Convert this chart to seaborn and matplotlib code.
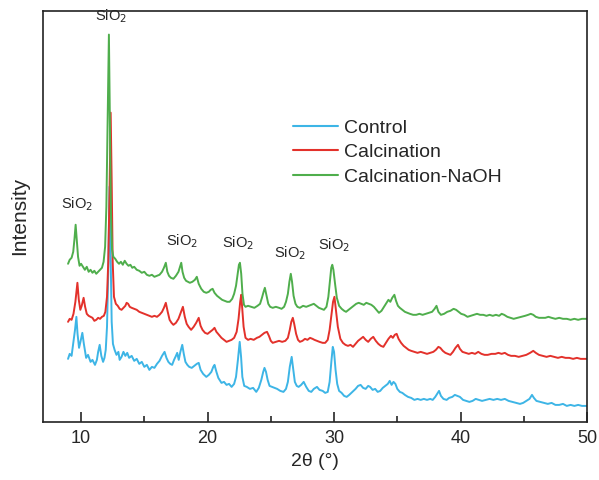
import numpy as np
import pandas as pd
import matplotlib
matplotlib.use("Agg")
import matplotlib.pyplot as plt
import seaborn as sns
from matplotlib.ticker import MultipleLocator

# XRD traces: (2theta in degrees, intensity in arbitrary units)
control_pts = [
    (8.97, 63), (9.1, 68), (9.25, 66), (9.4, 80), (9.52, 92), (9.63, 105), (9.72, 88), (9.84, 74),
    (9.95, 80), (10.1, 89), (10.22, 78), (10.4, 64), (10.55, 67), (10.75, 60), (10.9, 62), (11.1, 57),
    (11.25, 62), (11.35, 70), (11.47, 77), (11.6, 66), (11.74, 60), (11.85, 64), (11.95, 72),
    (12.05, 95), (12.15, 150), (12.25, 235), (12.33, 170), (12.42, 100), (12.52, 78), (12.65, 72),
    (12.8, 67), (12.95, 70), (13.05, 62), (13.2, 65), (13.35, 70), (13.5, 66), (13.65, 69), (13.8, 64),
    (14.0, 66), (14.2, 61), (14.4, 63), (14.6, 58), (14.8, 60), (15.0, 55), (15.2, 57), (15.4, 52),
    (15.6, 55), (15.8, 54), (16.0, 58), (16.2, 61), (16.4, 66), (16.6, 70), (16.75, 64), (16.9, 60),
    (17.05, 58), (17.2, 57), (17.35, 62), (17.5, 66), (17.6, 69), (17.72, 62), (17.85, 70), (18.0, 77),
    (18.12, 68), (18.25, 60), (18.4, 57), (18.55, 55), (18.75, 54), (18.95, 56), (19.15, 58),
    (19.3, 59), (19.45, 52), (19.65, 48), (19.9, 45), (20.1, 47), (20.3, 50), (20.45, 55), (20.55, 57),
    (20.7, 50), (20.85, 44), (21.1, 39), (21.3, 40), (21.5, 37), (21.7, 38), (21.9, 35), (22.1, 38),
    (22.25, 45), (22.4, 62), (22.54, 80), (22.65, 65), (22.75, 45), (22.9, 36), (23.1, 35),
    (23.35, 33), (23.6, 34), (23.85, 30), (24.05, 34), (24.25, 42), (24.4, 50), (24.5, 54),
    (24.62, 50), (24.75, 42), (24.9, 36), (25.1, 35), (25.3, 34), (25.5, 33), (25.75, 31), (26.0, 30),
    (26.2, 33), (26.35, 40), (26.5, 55), (26.65, 65), (26.78, 52), (26.9, 40), (27.05, 36), (27.2, 35),
    (27.4, 37), (27.6, 40), (27.8, 35), (28.0, 31), (28.2, 30), (28.4, 33), (28.65, 35), (28.85, 32),
    (29.1, 31), (29.3, 29), (29.5, 30), (29.65, 40), (29.8, 62), (29.9, 75), (30.0, 70), (30.12, 52),
    (30.25, 38), (30.4, 31), (30.6, 29), (30.8, 26), (31.0, 25), (31.2, 27), (31.45, 30), (31.7, 33),
    (31.9, 36), (32.1, 37), (32.3, 34), (32.5, 33), (32.7, 36), (32.85, 35), (33.05, 32), (33.25, 33),
    (33.45, 30), (33.65, 31), (33.85, 34), (34.05, 36), (34.25, 38), (34.4, 41), (34.55, 37),
    (34.7, 40), (34.85, 38), (35.0, 33), (35.2, 30), (35.4, 29), (35.6, 27), (35.85, 25), (36.1, 24),
    (36.35, 22), (36.6, 23), (36.85, 22), (37.1, 23), (37.35, 22), (37.6, 23), (37.8, 22), (38.0, 25),
    (38.15, 28), (38.3, 31), (38.45, 26), (38.65, 23), (38.9, 22), (39.1, 24), (39.35, 25),
    (39.55, 27), (39.75, 26), (39.95, 25), (40.2, 22), (40.45, 21), (40.7, 20), (40.95, 21),
    (41.2, 23), (41.45, 22), (41.7, 21), (42.0, 22), (42.3, 23), (42.6, 22), (42.9, 23), (43.2, 22),
    (43.5, 23), (43.8, 21), (44.1, 20), (44.4, 19), (44.7, 18), (44.95, 19), (45.2, 21), (45.45, 23),
    (45.65, 27), (45.8, 24), (46.0, 21), (46.3, 20), (46.6, 19), (46.9, 18), (47.2, 19), (47.5, 17),
    (47.8, 17), (48.1, 18), (48.4, 16), (48.7, 17), (49.0, 16), (49.3, 17), (49.6, 16), (50.0, 16),
]

calc_pts = [
    (8.97, 100), (9.1, 103), (9.25, 102), (9.4, 108), (9.55, 120), (9.71, 139), (9.82, 122),
    (9.94, 112), (10.05, 116), (10.2, 124), (10.32, 115), (10.45, 108), (10.6, 106), (10.75, 105),
    (10.9, 104), (11.05, 101), (11.2, 102), (11.35, 104), (11.5, 103), (11.65, 105), (11.8, 106),
    (11.92, 110), (12.05, 125), (12.15, 160), (12.25, 230), (12.34, 309), (12.42, 240), (12.5, 160),
    (12.6, 125), (12.75, 118), (12.9, 116), (13.05, 113), (13.2, 112), (13.35, 114), (13.5, 116),
    (13.6, 119), (13.72, 118), (13.85, 115), (14.0, 114), (14.2, 113), (14.4, 112), (14.6, 110),
    (14.8, 109), (15.0, 108), (15.2, 107), (15.4, 106), (15.6, 105), (15.8, 106), (16.0, 105),
    (16.2, 107), (16.4, 110), (16.55, 114), (16.7, 119), (16.85, 110), (17.0, 102), (17.15, 99),
    (17.3, 97), (17.5, 99), (17.7, 103), (17.9, 110), (18.05, 115), (18.2, 105), (18.35, 98),
    (18.5, 95), (18.7, 92), (18.9, 95), (19.1, 99), (19.3, 104), (19.45, 96), (19.6, 92), (19.8, 89),
    (20.0, 88), (20.2, 90), (20.4, 92), (20.55, 94), (20.7, 90), (20.9, 87), (21.1, 84), (21.3, 82),
    (21.5, 80), (21.7, 81), (21.9, 82), (22.1, 84), (22.3, 90), (22.45, 103), (22.58, 120),
    (22.66, 127), (22.75, 112), (22.85, 95), (23.0, 84), (23.2, 82), (23.4, 83), (23.65, 82),
    (23.9, 84), (24.1, 85), (24.3, 87), (24.5, 89), (24.7, 90), (24.85, 86), (25.0, 81), (25.15, 79),
    (25.4, 80), (25.65, 81), (25.9, 80), (26.15, 81), (26.35, 84), (26.5, 92), (26.62, 100),
    (26.74, 104), (26.85, 98), (27.0, 88), (27.15, 82), (27.3, 80), (27.5, 81), (27.7, 83),
    (27.9, 82), (28.1, 84), (28.3, 83), (28.45, 82), (28.65, 81), (28.85, 80), (29.1, 79), (29.3, 79),
    (29.5, 82), (29.65, 92), (29.8, 108), (29.92, 120), (30.03, 125), (30.15, 112), (30.3, 95),
    (30.5, 83), (30.7, 79), (30.9, 77), (31.1, 76), (31.3, 77), (31.5, 75), (31.7, 78), (31.9, 81),
    (32.1, 83), (32.3, 85), (32.5, 82), (32.7, 80), (32.9, 83), (33.1, 85), (33.3, 81), (33.5, 78),
    (33.7, 76), (33.9, 75), (34.1, 79), (34.3, 83), (34.5, 86), (34.65, 84), (34.8, 87), (34.95, 88),
    (35.1, 83), (35.3, 79), (35.5, 76), (35.7, 74), (35.9, 72), (36.1, 71), (36.35, 70), (36.6, 69),
    (36.85, 70), (37.1, 69), (37.35, 68), (37.6, 69), (37.85, 70), (38.05, 72), (38.25, 75),
    (38.4, 74), (38.6, 71), (38.8, 69), (39.0, 68), (39.2, 67), (39.4, 70), (39.6, 74), (39.8, 77),
    (39.95, 73), (40.15, 70), (40.4, 69), (40.65, 68), (40.9, 69), (41.15, 68), (41.4, 70),
    (41.65, 68), (41.9, 67), (42.15, 67), (42.45, 68), (42.75, 68), (43.0, 69), (43.25, 68),
    (43.5, 69), (43.75, 67), (44.0, 66), (44.3, 66), (44.6, 65), (44.9, 66), (45.2, 67), (45.5, 69),
    (45.75, 71), (45.95, 69), (46.2, 67), (46.5, 66), (46.8, 65), (47.1, 66), (47.4, 65), (47.7, 64),
    (48.0, 65), (48.3, 64), (48.6, 64), (48.9, 63), (49.2, 64), (49.5, 63), (49.8, 63), (50.0, 63),
]

naoh_pts = [
    (8.97, 158), (9.1, 162), (9.25, 164), (9.38, 170), (9.48, 183), (9.57, 197), (9.66, 182),
    (9.76, 165), (9.88, 156), (10.0, 158), (10.15, 155), (10.3, 152), (10.45, 155), (10.6, 150),
    (10.75, 152), (10.9, 149), (11.05, 151), (11.2, 148), (11.35, 150), (11.5, 152), (11.65, 154),
    (11.78, 160), (11.9, 175), (12.0, 215), (12.1, 300), (12.2, 387), (12.28, 300), (12.36, 210),
    (12.45, 172), (12.55, 165), (12.7, 163), (12.85, 160), (13.0, 158), (13.15, 160), (13.3, 157),
    (13.45, 161), (13.6, 158), (13.75, 156), (13.9, 157), (14.05, 154), (14.2, 155), (14.4, 152),
    (14.6, 151), (14.8, 149), (15.0, 150), (15.2, 147), (15.4, 146), (15.6, 147), (15.8, 145),
    (16.0, 146), (16.2, 147), (16.4, 150), (16.55, 154), (16.7, 159), (16.82, 150), (16.95, 146),
    (17.1, 144), (17.3, 143), (17.5, 146), (17.7, 150), (17.82, 155), (17.92, 159), (18.02, 150),
    (18.15, 144), (18.3, 141), (18.45, 140), (18.6, 139), (18.8, 140), (19.0, 142), (19.15, 145),
    (19.3, 138), (19.5, 133), (19.7, 130), (19.9, 129), (20.1, 130), (20.25, 132), (20.4, 133),
    (20.55, 129), (20.75, 126), (20.95, 124), (21.15, 122), (21.35, 121), (21.55, 120), (21.75, 120),
    (21.95, 123), (22.1, 128), (22.25, 136), (22.38, 148), (22.48, 157), (22.56, 159), (22.66, 148),
    (22.76, 128), (22.88, 117), (23.0, 115), (23.2, 116), (23.45, 115), (23.7, 114), (23.95, 116),
    (24.15, 118), (24.3, 124), (24.43, 130), (24.53, 134), (24.65, 127), (24.8, 118), (24.95, 115),
    (25.15, 114), (25.4, 115), (25.65, 114), (25.85, 113), (26.05, 115), (26.2, 120), (26.35, 128),
    (26.47, 140), (26.58, 148), (26.68, 140), (26.8, 126), (26.95, 118), (27.1, 115), (27.3, 114),
    (27.55, 116), (27.8, 115), (28.0, 116), (28.2, 117), (28.4, 118), (28.6, 116), (28.8, 114),
    (29.0, 113), (29.2, 112), (29.4, 115), (29.55, 125), (29.68, 142), (29.78, 154), (29.86, 157),
    (29.95, 152), (30.08, 138), (30.22, 124), (30.4, 116), (30.6, 113), (30.8, 111), (30.95, 110),
    (31.15, 112), (31.35, 114), (31.55, 116), (31.75, 118), (31.95, 119), (32.15, 118), (32.35, 117),
    (32.55, 119), (32.75, 118), (32.95, 117), (33.15, 115), (33.35, 112), (33.55, 109), (33.75, 111),
    (33.95, 115), (34.15, 119), (34.3, 122), (34.45, 120), (34.6, 124), (34.77, 127), (34.9, 121),
    (35.05, 116), (35.2, 114), (35.4, 112), (35.6, 110), (35.8, 109), (36.0, 108), (36.25, 107),
    (36.5, 107), (36.75, 108), (37.0, 107), (37.25, 108), (37.5, 109), (37.75, 110), (37.95, 113),
    (38.1, 116), (38.25, 110), (38.45, 107), (38.7, 108), (38.95, 110), (39.2, 111), (39.45, 113),
    (39.65, 112), (39.85, 110), (40.05, 108), (40.3, 107), (40.55, 105), (40.8, 106), (41.05, 107),
    (41.3, 108), (41.55, 107), (41.8, 107), (42.05, 106), (42.3, 107), (42.55, 106), (42.8, 107),
    (43.05, 106), (43.25, 108), (43.45, 107), (43.7, 105), (43.95, 104), (44.2, 103), (44.5, 104),
    (44.8, 105), (45.1, 106), (45.35, 107), (45.55, 108), (45.75, 107), (45.95, 105), (46.2, 104),
    (46.45, 104), (46.7, 104), (46.95, 105), (47.2, 104), (47.5, 103), (47.8, 104), (48.1, 103),
    (48.4, 103), (48.7, 102), (49.0, 103), (49.3, 102), (49.6, 103), (50.0, 103),
]

series_names = ["Control", "Calcination", "Calcination-NaOH"]
series_colors = ["#3db5e6", "#e3312b", "#4fae4c"]

# SiO2 reflection labels (2theta, height)
label_x = [9.65, 12.39, 18.0, 22.37, 26.5, 30.03]
label_y = [209, 397, 172, 170, 160, 168]

frames = []
for name, pts in zip(series_names, [control_pts, calc_pts, naoh_pts]):
    arr = np.array(pts)
    frames.append(pd.DataFrame({"2theta": arr[:, 0], "intensity": arr[:, 1], "sample": name}))
df = pd.concat(frames, ignore_index=True)

sns.set_style("ticks")
plt.rcParams['font.family'] = ['Liberation Sans', 'DejaVu Sans']

fig = plt.figure(figsize=(5.99, 4.80), dpi=100)
ax = fig.add_axes([0.072, 0.121, 0.908, 0.857])

sns.lineplot(data=df, x="2theta", y="intensity", hue="sample", hue_order=series_names,
             palette=series_colors, linewidth=1.4, estimator=None, sort=False, ax=ax)

for lx, ly in zip(label_x, label_y):
    ax.text(lx, ly, "SiO$_2$", ha="center", va="bottom", fontsize=10.5)

ax.set_xlim(7, 50)
ax.set_ylim(0, 411)
ax.xaxis.set_major_locator(MultipleLocator(10))
ax.xaxis.set_minor_locator(MultipleLocator(5))
ax.tick_params(axis="x", which="major", direction="in", length=7, width=1.2, labelsize=13, pad=6)
ax.tick_params(axis="x", which="minor", direction="in", length=4, width=1.2)
ax.set_yticks([])
for sp in ax.spines.values():
    sp.set_visible(True)
    sp.set_linewidth(1.2)
    sp.set_color("#222222")

ax.set_xlabel("2θ (°)", fontsize=14)
ax.set_ylabel("Intensity", fontsize=15, labelpad=10)

leg = ax.legend(loc="upper left", bbox_to_anchor=(0.445, 0.755), frameon=False,
                fontsize=14, handlelength=2.3, handletextpad=0.35, labelspacing=0.35,
                borderaxespad=0)
for line in leg.get_lines():
    line.set_linewidth(1.5)

fig.savefig("out.png", dpi=100)
